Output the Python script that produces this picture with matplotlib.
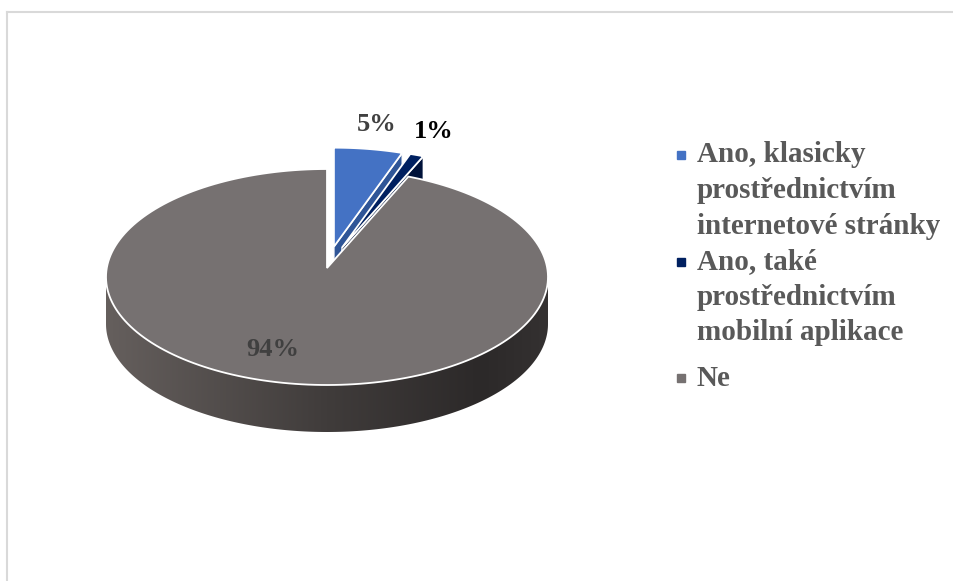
import numpy as np
import matplotlib.pyplot as plt
from matplotlib.patches import Polygon
from matplotlib.lines import Line2D
from matplotlib.colors import LinearSegmentedColormap

labels = ['Ano, klasicky\nprostřednictvím\ninternetové stránky',
          'Ano, také\nprostřednictvím\nmobilní aplikace',
          'Ne']
shares = [5, 1, 94]
colors = ['#4472C4', '#002060', '#767171']
end_face = ['#2F5597', '#00123A', '#3A3737']
explode = [0.2, 0.2, 0.0]
pct_colors = ['#404040', '#000000', '#404040']

# pie geometry in pixel units (y grows downwards)
cx, cy, rx, ry, depth = 327, 277, 221, 108, 47
apex_lift = 9  # centre point sits a bit higher because of the tilt
serif = ['Liberation Serif', 'DejaVu Serif']

fig = plt.figure(figsize=(9.54, 5.81), dpi=100)
ax = fig.add_axes([0, 0, 1, 1])
ax.set_xlim(0, 954)
ax.set_ylim(581, 0)
ax.axis('off')


def rim(a0, a1, ox=0.0, oy=0.0, dz=0.0, n=200):
    a = np.radians(np.linspace(a0, a1, n))
    return np.column_stack([cx + ox + rx * np.sin(a), cy + oy + dz - ry * np.cos(a)])


total = float(sum(shares))
start = 0.0
wedges = []
for v, col, fc, ex, pc in zip(shares, colors, end_face, explode, pct_colors):
    a0, a1 = start, start + v / total * 360
    start = a1
    mid = np.radians((a0 + a1) / 2)
    ox, oy = ex * rx * np.sin(mid), -ex * ry * np.cos(mid)
    wedges.append((v, a0, a1, mid, ox, oy, col, fc, ex, pc))

# exploded slices sit behind the big one, draw them first
for v, a0, a1, mid, ox, oy, col, fc, ex, pc in sorted(wedges, key=lambda w: -w[8]):
    apex = np.array([cx + ox, cy + oy - apex_lift])
    edge = rim(a1, a1, ox, oy, n=1)[0]
    if ex > 0:
        face = np.array([apex, edge, edge + [0, depth], apex + [0, depth]])
        ax.add_patch(Polygon(face, closed=True, fc=fc, ec='white', lw=1.0, zorder=2))
    else:
        # front rim with a left-to-right shade
        lo, hi = max(a0, 90), min(a1, 270)
        top = rim(lo, hi)
        bot = rim(hi, lo, dz=depth)
        side = Polygon(np.vstack([top, bot]), closed=True, fc='none', ec='none', zorder=3)
        ax.add_patch(side)
        shade = LinearSegmentedColormap.from_list(
            'side', [(0.0, '#655F5D'), (0.5, '#403C3B'), (0.85, '#2C2929'), (1.0, '#343131')])
        grad = np.linspace(0, 1, 256)[None, :]
        im = ax.imshow(grad, cmap=shade, extent=(cx - rx, cx + rx, cy + ry + depth, cy - ry),
                       aspect='auto', zorder=3, interpolation='bilinear')
        im.set_clip_path(side)
    top_face = np.vstack([apex, rim(a0, a1, ox, oy)])
    ax.add_patch(Polygon(top_face, closed=True, fc=col, ec='white', lw=1.3,
                         joinstyle='miter', zorder=4))

    if ex > 0:
        r = 1.23
        tx, ty = cx + ox + r * rx * np.sin(mid), cy + oy - r * ry * np.cos(mid)
    else:
        tx, ty = cx + 1.3 * rx * np.sin(mid), cy - 0.68 * ry * np.cos(mid)
    ax.text(tx, ty, f'{v}%', ha='center', va='center', fontsize=19, fontweight='bold',
            family=serif, color=pc, zorder=6)

# legend, first line of each entry next to a small square
line_h = 35.5
entry_y = [155, 262, 378]
for lab, col, y0 in zip(labels, colors, entry_y):
    ax.plot(681, y0, marker='s', ms=5.5, color=col, zorder=6)
    for k, line in enumerate(lab.split('\n')):
        ax.text(697, y0 + k * line_h, line, ha='left', va='center', fontsize=21,
                fontweight='bold', family=serif, color='#595959', zorder=6)

# chart-area border (top and left visible)
ax.add_line(Line2D([7.5, 954], [11.5, 11.5], color='#D9D9D9', lw=1.5))
ax.add_line(Line2D([7.5, 7.5], [11.5, 581], color='#D9D9D9', lw=1.5))

fig.savefig('out.png', dpi=100, facecolor='white')
